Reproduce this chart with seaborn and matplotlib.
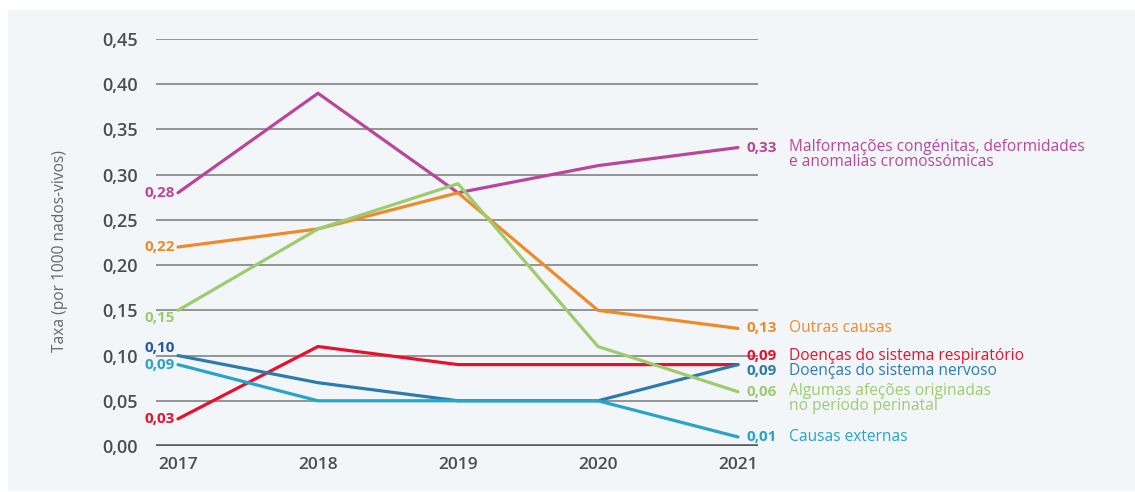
import numpy as np
import pandas as pd
import matplotlib.pyplot as plt
import matplotlib.patches as mpatches
import seaborn as sns

# dados
anos = [2017, 2018, 2019, 2020, 2021]
malformacoes = [0.28, 0.39, 0.28, 0.31, 0.33]
outras = [0.22, 0.24, 0.28, 0.15, 0.13]
perinatal = [0.15, 0.24, 0.29, 0.11, 0.06]
respiratorio = [0.03, 0.11, 0.09, 0.09, 0.09]
nervoso = [0.10, 0.07, 0.05, 0.05, 0.09]
externas = [0.09, 0.05, 0.05, 0.05, 0.01]

categorias = ['Malformações congénitas, deformidades\ne anomalias cromossómicas',
              'Outras causas',
              'Doenças do sistema respiratório',
              'Doenças do sistema nervoso',
              'Algumas afeções originadas\nno período perinatal',
              'Causas externas']
series = [malformacoes, outras, respiratorio, nervoso, perinatal, externas]
cores = ['#b8479b', '#ef8a2a', '#e8112d', '#2b7cad', '#9ccc6e', '#27a4c8']
cor_inicio = ['#b8479b', '#ef8a2a', '#e8112d', '#27589c', '#9ccc6e', '#27a4c8']

# deslocamentos verticais dos rótulos (px, positivo = para cima)
desl_inicio = [0, 0, 0, 8, -8, 0]
desl_fim = [0, 0, 9, -6, 0, 0]

linhas = []
for cat, vals in zip(categorias, series):
    for ano, v in zip(anos, vals):
        linhas.append({'Ano': ano, 'Taxa': v, 'Causa': cat})
df = pd.DataFrame(linhas)

sns.set_style('white')
plt.rcParams['font.family'] = ['Open Sans', 'DejaVu Sans']

fig = plt.figure(figsize=(11.35, 4.92), dpi=100, facecolor='white')
W, H = 1135, 492
fundo = mpatches.Rectangle((8 / W, 2 / H), 1 - 8 / W, 480 / H,
                           transform=fig.transFigure, color='#f2f6f9', zorder=-10)
fig.add_artist(fundo)

ax = fig.add_axes([156 / W, (H - 446) / H, (758 - 156) / W, (446 - 39) / H])
ax.set_facecolor('none')

for y in np.arange(0.05, 0.46, 0.05):
    ax.axhline(y, color='#8c8c8c', lw=1.3, zorder=1)
ax.axhline(0, color='#5a5a5a', lw=2.6, zorder=1)

sns.lineplot(data=df, x='Ano', y='Taxa', hue='Causa', hue_order=categorias,
             palette=dict(zip(categorias, cores)), linewidth=2.3, legend=False,
             ax=ax, zorder=3)

ax.set_xlim(2016.843, 2021.143)
ax.set_ylim(0, 0.45)
ax.set_yticks(np.arange(0, 0.46, 0.05))
ax.set_yticklabels([f'{v:.2f}'.replace('.', ',') for v in np.arange(0, 0.46, 0.05)],
                   fontsize=13, color='#4d4d4d', fontweight='semibold')
ax.set_xticks(anos)
ax.set_xticklabels([str(a) for a in anos], fontsize=12.5, color='#4d4d4d', fontweight='semibold')
ax.tick_params(axis='y', length=0, pad=13)
ax.tick_params(axis='x', length=0, pad=8)
for s in ax.spines.values():
    s.set_visible(False)
ax.set_xlabel('')
ax.set_ylabel('Taxa (por 1000 nados-vivos)', fontsize=11.2, color='#666666')
ax.yaxis.set_label_coords(-0.146, 0.479)

px = 72 / 100
for i, (cat, vals) in enumerate(zip(categorias, series)):
    ax.annotate(f'{vals[0]:.2f}'.replace('.', ','), (anos[0], vals[0]),
                xytext=(-3 * px, desl_inicio[i] * px), textcoords='offset points',
                ha='right', va='center', fontsize=11, fontweight='bold',
                color=cor_inicio[i], annotation_clip=False)
    ax.annotate(f'{vals[-1]:.2f}'.replace('.', ','), (anos[-1], vals[-1]),
                xytext=(9 * px, desl_fim[i] * px), textcoords='offset points',
                ha='left', va='center', fontsize=11, fontweight='bold',
                color=cores[i], annotation_clip=False)
    if '\n' in cat:
        ax.annotate(cat, (anos[-1], vals[-1]),
                    xytext=(51 * px, (desl_fim[i] + 9) * px), textcoords='offset points',
                    ha='left', va='top', fontsize=11.2, color=cores[i],
                    linespacing=0.92, annotation_clip=False)
    else:
        ax.annotate(cat, (anos[-1], vals[-1]),
                    xytext=(51 * px, desl_fim[i] * px), textcoords='offset points',
                    ha='left', va='center', fontsize=11.2, color=cores[i],
                    annotation_clip=False)

fig.savefig('out.png', dpi=100, facecolor='white')
